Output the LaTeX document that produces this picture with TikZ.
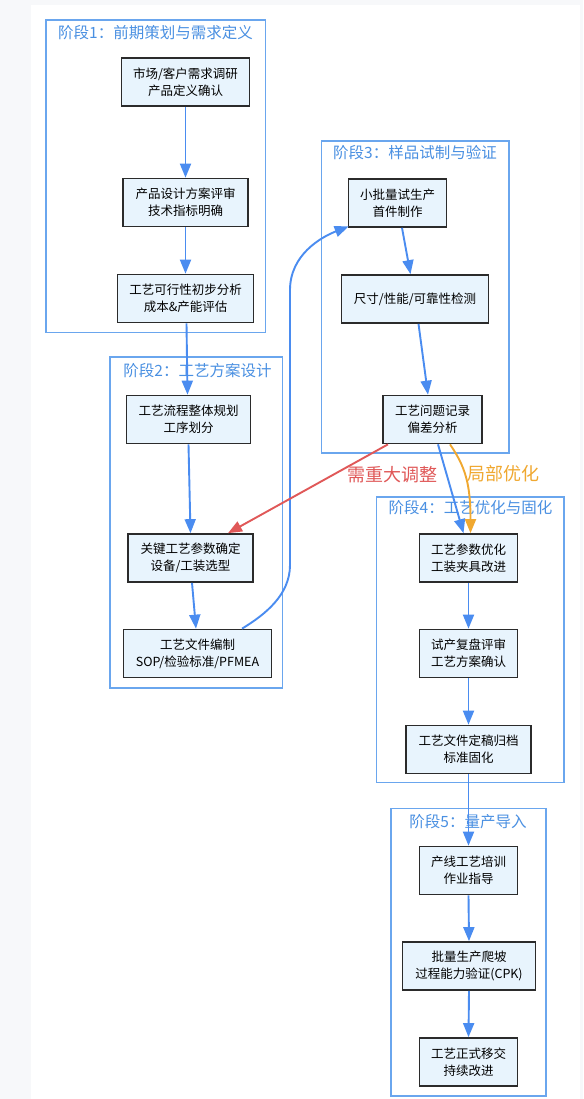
\documentclass[tikz,border=0pt]{standalone}
\usepackage{fontspec}
\newfontfamily\cjk{Noto Sans CJK SC}
\usetikzlibrary{arrows.meta}
\definecolor{bggray}{HTML}{F7F8FA}
\definecolor{clblue}{HTML}{6AA6EE}
\definecolor{ttlblue}{HTML}{4A90E2}
\definecolor{arrblue}{HTML}{4A8CF0}
\definecolor{boxfill}{HTML}{E8F4FD}
\definecolor{boxline}{HTML}{2B2B2B}
\definecolor{redc}{HTML}{E05858}
\definecolor{orangec}{HTML}{F0A830}
\begin{document}
\begin{tikzpicture}[x=1pt,y=-1pt,
  proc/.style={draw=boxline, fill=boxfill, line width=1.7pt, inner sep=0pt, align=center,
    font=\cjk\fontsize{12.5}{17}\selectfont, text=black, minimum height=48pt},
  clus/.style={draw=clblue, line width=1.8pt},
  ctitle/.style={font=\cjk\fontsize{15.5}{18}\selectfont, text=ttlblue, inner sep=0pt},
  flow/.style={draw=arrblue, line width=1.9pt, -{Triangle[length=14pt,width=11pt]}},
  redflow/.style={draw=redc, line width=1.9pt, -{Triangle[length=14pt,width=11pt]}},
  orflow/.style={draw=orangec, line width=1.9pt, -{Triangle[length=14pt,width=11pt]}},
  elabel/.style={font=\cjk\fontsize{18}{20}\selectfont, inner sep=0pt}
]
\useasboundingbox (0,0) rectangle (583,1099);
\fill[bggray] (0,0) rectangle (583,1099);
\fill[white] (31,5) rectangle (580,1099);

% clusters
\draw[clus] (46,20) rectangle (265.5,332.5);
\draw[clus] (110,357) rectangle (282.5,688);
\draw[clus] (321.5,141) rectangle (509,453);
\draw[clus] (376.5,497) rectangle (564,782.5);
\draw[clus] (391,808.5) rectangle (546,1096);

\node[ctitle] (t1) at (155.5,33) {阶段1：前期策划与需求定义};
\node[ctitle] (t2) at (197.5,371) {阶段2：工艺方案设计};
\node[ctitle] (t3) at (415,153) {阶段3：样品试制与验证};
\node[ctitle] (t4) at (470.5,508) {阶段4：工艺优化与固化};
\node[ctitle] (t5) at (468,822) {阶段5：量产导入};

% nodes
\node[proc, minimum width=128pt] (A1) at (185.5,82) {市场/客户需求调研\\产品定义确认};
\node[proc, minimum width=125pt] (A2) at (185.5,202.5) {产品设计方案评审\\技术指标明确};
\node[proc, minimum width=136pt] (A3) at (185.5,298.5) {工艺可行性初步分析\\成本\&产能评估};

\node[proc, minimum width=124pt] (B1) at (188.5,419.5) {工艺流程整体规划\\工序划分};
\node[proc, minimum width=125pt] (B2) at (190.5,558) {关键工艺参数确定\\设备/工装选型};
\node[proc, minimum width=148pt] (B3) at (197.5,653.5) {工艺文件编制\\SOP/检验标准/PFMEA};

\node[proc, minimum width=98pt] (C1) at (397.5,203) {小批量试生产\\首件制作};
\node[proc, minimum width=147pt] (C2) at (415,299) {尺寸/性能/可靠性检测};
\node[proc, minimum width=99pt] (C3) at (432.5,419.5) {工艺问题记录\\偏差分析};

\node[proc, minimum width=98pt] (D1) at (468.5,558) {工艺参数优化\\工装夹具改进};
\node[proc, minimum width=98pt] (D2) at (468.5,653.5) {试产复盘评审\\工艺方案确认};
\node[proc, minimum width=125pt] (D3) at (468.5,749.5) {工艺文件定稿归档\\标准固化};

\node[proc, minimum width=98pt] (E1) at (468.5,870.5) {产线工艺培训\\作业指导};
\node[proc, minimum width=133pt] (E2) at (469,966) {批量生产爬坡\\过程能力验证(CPK)};
\node[proc, minimum width=98pt] (E3) at (468.5,1062) {工艺正式移交\\持续改进};

% edges
\draw[flow] (A1.south) -- (A2.north);
\draw[flow] (A2.south) -- (A3.north);
\draw[flow] ([xshift=1pt]A3.south) -- ([xshift=-1pt]B1.north);
\draw[flow] (B1.south) -- (B2.north);
\draw[flow] ([xshift=1.5pt]B2.south) -- ([xshift=-1.5pt]B3.north);

\coordinate (bendlo) at (290,565);
\coordinate (bendhi) at (290,290);
\draw[flow] ([xshift=44.5pt]B3.north) .. controls +(23,-14) and +(0,30) .. (bendlo)
  -- (bendhi) .. controls +(0,-35) and +(-28,11) .. ([xshift=1pt,yshift=1.5pt]C1.south west);

\draw[flow] ([xshift=4.5pt]C1.south) -- ([xshift=-4.5pt]C2.north);
\draw[flow] ([xshift=3.5pt]C2.south) -- ([xshift=-4.5pt]C3.north);

\draw[redflow] ([xshift=-44.5pt]C3.south) -- ([xshift=37.5pt]B2.north);
\draw[flow] ([xshift=5.5pt]C3.south) -- ([xshift=-5pt]D1.north);
\draw[orflow] ([xshift=17.5pt]C3.south) .. controls +(15,22) and +(0,-50) .. ([xshift=2pt]D1.north);

\node[elabel, text=redc] (lred) at (392.5,475) {需重大调整};
\node[elabel, text=orangec] (lor) at (503.5,474) {局部优化};

\draw[flow] (D1.south) -- (D2.north);
\draw[flow] (D2.south) -- (D3.north);
\draw[flow] (D3.south) -- (E1.north);
\draw[flow] (E1.south) -- (E2.north);
\draw[flow] (E2.south) -- (E3.north);
\end{tikzpicture}
\end{document}
